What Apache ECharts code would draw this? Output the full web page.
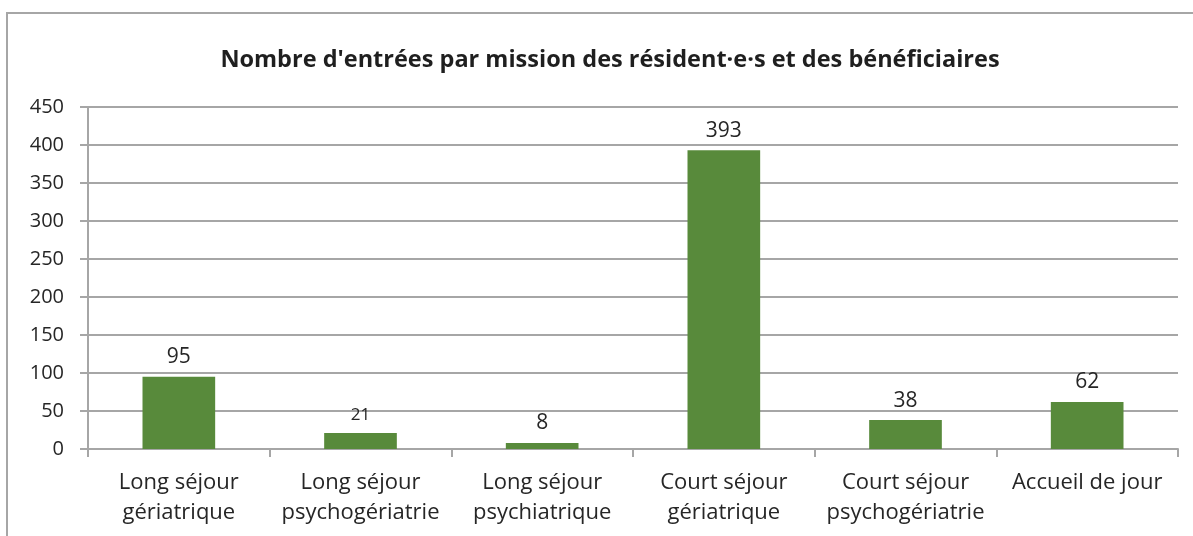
<!DOCTYPE html>
<html>
<head>
<meta charset="utf-8">
<script src="https://cdn.jsdelivr.net/npm/echarts@6/dist/echarts.min.js"></script>
<style>
html,body{margin:0;padding:0;background:#fff;}
#c{width:1193px;height:536px;}
</style>
</head>
<body>
<div id="c"></div>
<script>
const titleText = "Nombre d'entrées par mission des résident·e·s et des bénéficiaires";
const categories = ["Long séjour\ngériatrique", "Long séjour\npsychogériatrie", "Long séjour\npsychiatrique", "Court séjour\ngériatrique", "Court séjour\npsychogériatrie", "Accueil de jour"];
const values = [95, 21, 8, 393, 38, 62];
const yTicks = { min: 0, max: 450, interval: 50 };

const FONT = "'Open Sans', Lato, sans-serif";
const chart = echarts.init(document.getElementById('c'), null, { renderer: 'canvas' });
chart.setOption({
  animation: false,
  backgroundColor: '#ffffff',
  graphic: [{
    type: 'rect',
    shape: { x: 7, y: 13, width: 1300, height: 700 },
    style: { fill: 'none', stroke: '#a6a6a6', lineWidth: 2 },
    silent: true
  }],
  title: {
    text: titleText,
    left: 605,
    top: 43,
    textAlign: 'center',
    textStyle: { fontFamily: FONT, fontWeight: 'bold', fontSize: 23.5, color: '#1f1f1f' }
  },
  grid: { left: 88, right: 15, top: 107, bottom: 87, containLabel: false },
  xAxis: {
    type: 'category',
    data: categories,
    axisLine: { lineStyle: { color: '#a6a6a6', width: 2 } },
    axisTick: { show: true, length: 8, lineStyle: { color: '#a6a6a6', width: 2 } },
    axisLabel: { interval: 0, fontFamily: FONT, fontSize: 22, color: '#262626', lineHeight: 30, margin: 19 }
  },
  yAxis: {
    type: 'value',
    min: yTicks.min, max: yTicks.max, interval: yTicks.interval,
    axisLine: { show: true, lineStyle: { color: '#a6a6a6', width: 2 } },
    axisTick: { show: true, length: 8, lineStyle: { color: '#a6a6a6', width: 2 } },
    axisLabel: { fontFamily: FONT, fontSize: 20, color: '#262626', margin: 24 },
    splitLine: { show: true, lineStyle: { color: '#a6a6a6', width: 2 } }
  },
  series: [{
    type: 'bar',
    data: values.map((v, i) => i === 1 ? { value: v, label: { fontSize: 17 } } : v),
    barWidth: '40%',
    itemStyle: { color: '#588a3b' },
    label: {
      show: true, position: 'top', distance: 9,
      fontFamily: FONT, fontSize: 21, color: '#262626'
    }
  }]
});
</script>
</body>
</html>
